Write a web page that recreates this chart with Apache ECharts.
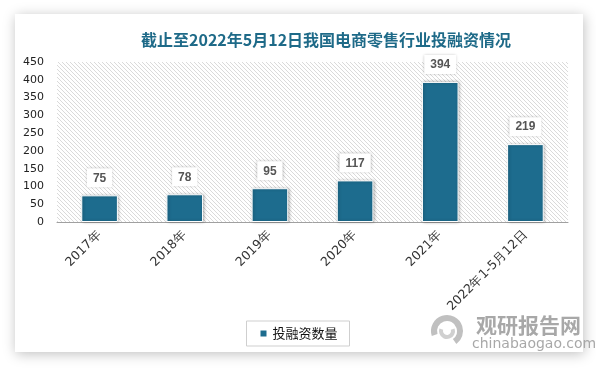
<!DOCTYPE html>
<html><head><meta charset="utf-8">
<script src="https://cdn.jsdelivr.net/npm/echarts@6/dist/echarts.min.js"></script>
<style>html,body{margin:0;padding:0;background:#fff}#c{width:596px;height:370px}</style>
</head><body><div id="c"></div>
<script>
const categories = ['2017年','2018年','2019年','2020年','2021年','2022年1-5月12日'];
const values = [75, 78, 95, 117, 394, 219];
const seriesName = '投融资数量';
const titleText = '截止至2022年5月12日我国电商零售行业投融资情况';
const yTicks = [0, 50, 100, 150, 200, 250, 300, 350, 400, 450];

// hatch pattern
const pc = document.createElement('canvas');
pc.width = 4; pc.height = 4;
const g = pc.getContext('2d');
g.fillStyle = '#ffffff'; g.fillRect(0,0,4,4);
g.strokeStyle = '#dadada'; g.lineWidth = 1;
g.beginPath(); g.moveTo(-1,-1); g.lineTo(5,5); g.stroke();
g.beginPath(); g.moveTo(-1,3); g.lineTo(1,5); g.stroke();
g.beginPath(); g.moveTo(3,-1); g.lineTo(5,1); g.stroke();

const chart = echarts.init(document.getElementById('c'), null, {renderer:'canvas'});
chart.setOption({
  animation: false,
  backgroundColor: '#ffffff',
  title: {
    text: titleText, left: 136, top: 27,
    textStyle: {color: '#1e6a88', fontSize: 16, fontWeight: 'bold', fontFamily: 'Noto Sans CJK SC'}
  },
  graphic: [
    {type:'rect', z:-10, shape:{x:15,y:14,width:568,height:338},
     style:{fill:'#fff', shadowBlur:12, shadowColor:'rgba(0,0,0,0.25)', shadowOffsetX:1, shadowOffsetY:2}},
    {type:'text', z:10, left:476, top:315, style:{text:'观研报告网', fill:'#a8a8a8', font:'bold 21px "Noto Sans CJK SC"'}},
    {type:'text', z:10, left:472, top:337, style:{text:'chinabaogao.com', fill:'#a8a8a8', font:'14px "DejaVu Sans"'}},
    {type:'arc', z:10, shape:{cx:447, cy:331, r:13, startAngle:Math.PI*0.9, endAngle:Math.PI*2.3}, style:{stroke:'#c0c0c0', lineWidth:6, fill:null}},
    {type:'arc', z:10, shape:{cx:447, cy:331, r:6, startAngle:Math.PI*1.9, endAngle:Math.PI*3.1}, style:{stroke:'#d0d0d0', lineWidth:4, fill:null}}
  ],
  legend: {
    data:[seriesName], left:'center', top:321,
    icon:'rect', itemWidth:8, itemHeight:8, itemGap:6,
    borderColor:'#cfcfcf', borderWidth:1, padding:[6,12,6,12],
    textStyle:{color:'#111', fontSize:13, fontFamily:'Noto Sans CJK SC'}
  },
  grid: {left:57, right:28, top:62, bottom:148, show:true, borderWidth:0,
    backgroundColor:{image: pc, repeat:'repeat'}},
  xAxis: {
    type:'category', data:categories,
    axisLine:{lineStyle:{color:'#a0a0a0'}}, axisTick:{show:false},
    axisLabel:{rotate:45, color:'#333', fontSize:12.5, fontFamily:'DejaVu Sans', margin:11, interval:0}
  },
  yAxis: {
    type:'value', min:yTicks[0], max:yTicks[yTicks.length-1], interval:50,
    axisLine:{show:false}, axisTick:{show:false}, splitLine:{show:false},
    axisLabel:{color:'#222', fontSize:11, fontFamily:'DejaVu Sans', margin:13}
  },
  series: [{
    name: seriesName, type:'bar', data: values, barWidth:'43%',
    itemStyle:{color:'#1d6c8e', borderColor:'#ffffff', borderWidth:1,
      shadowBlur:3, shadowColor:'rgba(0,0,0,0.3)', shadowOffsetX:1, shadowOffsetY:0},
    label:{show:true, position:'top', distance:8, color:'#555', fontSize:12, fontWeight:'bold',
      fontFamily:'Liberation Sans', backgroundColor:'#fff', padding:[4,6,3,6],
      shadowBlur:3, shadowColor:'rgba(0,0,0,0.3)'}
  }]
});
</script></body></html>
